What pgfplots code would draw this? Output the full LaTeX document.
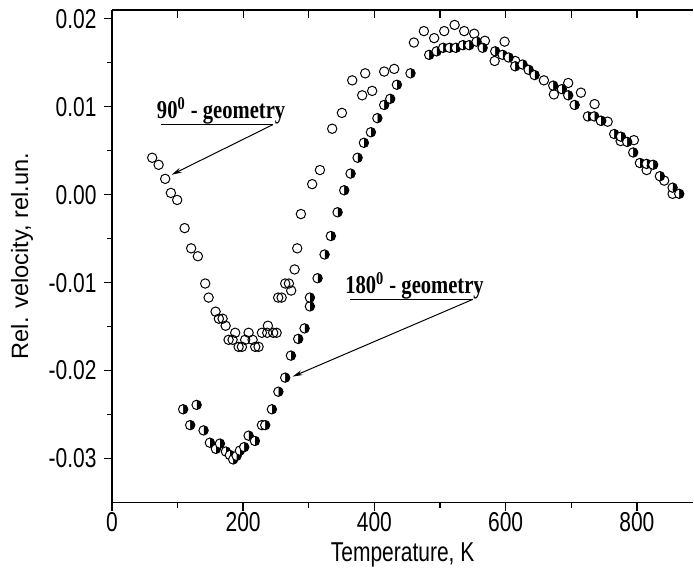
\documentclass[border=0pt]{standalone}
\usepackage{graphicx}
\usepackage{pgfplots}
\pgfplotsset{compat=1.18}
\usepackage{fontspec}
\setmainfont{Liberation Sans}
\newfontfamily\annfont{Liberation Serif}
\usetikzlibrary{plotmarks,arrows.meta}
\newcommand{\tall}[1]{\scalebox{1}[1.3]{#1}}

\begin{document}
\begin{tikzpicture}
\fontsize{10.5}{12}\selectfont
% top axis line, ticks pointing in
\begin{axis}[
    overlay,
    scale only axis, width=291pt, height=246.5pt,
    xmin=0, xmax=886, ymin=-0.035, ymax=0.021,
    axis x line*=top, axis y line=none,
    xtick={100,200,...,800}, xticklabels={},
    tick align=inside, major tick length=4pt,
    axis line style={line width=0.65pt},
    every tick/.style={line width=0.65pt, black},
]
\end{axis}
\begin{axis}[
    scale only axis, width=291pt, height=246.5pt,
    xmin=0, xmax=886, ymin=-0.035, ymax=0.021,
    axis x line*=bottom, axis y line*=left,
    xtick={0,200,...,800}, minor xtick={100,300,500,700},
    ytick={-0.03,-0.02,-0.01,0,0.01,0.02},
    minor ytick={-0.025,-0.015,-0.005,0.005,0.015},
    scaled y ticks=false,
    tick align=outside, major tick length=4pt, minor tick length=2.5pt,
    axis line style={line width=0.65pt},
    every tick/.style={line width=0.65pt, black},
    yticklabel={\tall{\pgfmathprintnumber[fixed,fixed zerofill,precision=2,assume math mode=true]{\tick}}},
    xticklabel={\tall{\pgfmathprintnumber[assume math mode=true]{\tick}}},
    tick label style={font=\fontsize{10.5}{12}\selectfont},
    xticklabel style={yshift=2.5pt},
    xlabel={\tall{Temperature, K}},
    ylabel={Rel. velocity, rel.un.},
    every axis x label/.style={at={(axis description cs:0.5,-0.106)}, anchor=center, font=\fontsize{10.5}{12}\selectfont},
    every axis y label/.style={at={(axis description cs:-0.1546,0.5)}, rotate=90, anchor=center, font=\fontsize{11.8}{13}\selectfont},
]
% 90 deg geometry
\addplot[only marks, mark=o, mark size=2.35pt, line width=0.5pt, black] coordinates {
(61.4,0.0042) (71.2,0.0034) (81.2,0.0018) (89.9,0.0002) (99.5,-0.0006)
(110.8,-0.0038) (120.8,-0.0061) (131.0,-0.0070) (142.2,-0.0101) (147.4,-0.0117)
(158.0,-0.0133) (163.0,-0.0141) (168.7,-0.0141) (173.3,-0.0149) (177.8,-0.0165)
(183.9,-0.0165) (187.9,-0.0157) (193.1,-0.0173) (198.1,-0.0173) (203.1,-0.0165)
(208.3,-0.0157) (214.4,-0.0165) (218.4,-0.0173) (223.5,-0.0173) (228.6,-0.0157)
(236.7,-0.0157) (237.7,-0.0149) (245.8,-0.0157) (251.0,-0.0157) (253.4,-0.0117)
(258.6,-0.0117) (264.1,-0.0101) (269.7,-0.0101) (273.2,-0.0109) (278.4,-0.0085)
(282.4,-0.0061) (288.0,-0.0022) (305.2,0.0012) (317.0,0.0028) (335.7,0.0075)
(350.5,0.0093) (366.2,0.0130) (381.4,0.0113) (386.0,0.0138) (396.6,0.0118)
(414.9,0.0140) (430.2,0.0143) (460.2,0.0173) (475.4,0.0186) (491.1,0.0178)
(506.4,0.0186) (522.2,0.0193) (536.8,0.0186) (552.1,0.0183) (568.4,0.0175)
(583.2,0.0152) (598.4,0.0174) (614.6,0.0152) (658.3,0.0130) (673.5,0.0114)
(695.3,0.0127) (714.7,0.0116) (735.5,0.0103) (745.6,0.0084) (755.4,0.0083)
(775.2,0.0061) (795.4,0.0062) (814.8,0.0028) (841.6,0.0016) (854.4,0.0001)
};
% 180 deg geometry
\addplot[only marks, mark=halfcircle*, mark size=2.35pt, line width=0.5pt, black, fill=black,
    mark options={rotate=-90}] coordinates {
(108.6,-0.0244) (119.3,-0.0262) (129.1,-0.0239) (139.7,-0.0268) (149.3,-0.0282)
(158.5,-0.0289) (164.6,-0.0283) (173.7,-0.0292) (179.8,-0.0296) (184.8,-0.0301)
(190.0,-0.0297) (195.0,-0.0291) (201.6,-0.0287) (208.3,-0.0274) (217.9,-0.0280)
(228.6,-0.0262) (233.6,-0.0262) (243.8,-0.0244) (253.7,-0.0224) (264.1,-0.0208)
(272.8,-0.0183) (283.9,-0.0164) (293.6,-0.0152) (301.7,-0.0127) (301.7,-0.0117)
(313.4,-0.0095) (324.1,-0.0068) (333.7,-0.0047) (343.9,-0.0020) (354.0,0.0005)
(363.7,0.0024) (374.4,0.0042) (384.0,0.0059) (394.7,0.0071) (404.5,0.0087)
(414.9,0.0102) (424.1,0.0109) (434.3,0.0125) (455.0,0.0138) (483.5,0.0159)
(494.8,0.0163) (504.8,0.0167) (514.6,0.0167) (524.2,0.0167) (534.9,0.0170)
(544.5,0.0170) (555.7,0.0174) (564.9,0.0167) (584.1,0.0163) (595.4,0.0159)
(604.5,0.0156) (614.6,0.0146) (625.8,0.0148) (635.0,0.0142) (644.1,0.0136)
(672.5,0.0124) (685.7,0.0120) (695.3,0.0113) (705.1,0.0102) (725.3,0.0089)
(735.0,0.0089) (745.1,0.0084) (765.4,0.0069) (775.6,0.0066) (785.2,0.0060)
(794.4,0.0048) (804.6,0.0036) (814.8,0.0035) (824.8,0.0034) (835.0,0.0021)
(854.4,0.0008) (864.5,0.0001)
};
% annotations
\node[anchor=base west, inner sep=0pt, font=\annfont\bfseries\fontsize{10.3}{12}\selectfont]
    at (axis cs:68.1,0.00864) {\scalebox{1}[1.25]{90\textsuperscript{0} - geometry}};
\draw[line width=0.5pt] (axis cs:74.7,0.00795) -- (axis cs:244.9,0.00795);
\draw[line width=0.5pt, -{Stealth[length=5pt,width=2.5pt]}] (axis cs:244.9,0.00795) -- (axis cs:91.0,0.00227);
\node[anchor=base west, inner sep=0pt, font=\annfont\bfseries\fontsize{10.3}{12}\selectfont]
    at (axis cs:355.0,-0.01128) {\scalebox{1}[1.25]{180\textsuperscript{0} - geometry}};
\draw[line width=0.5pt] (axis cs:362.7,-0.0119) -- (axis cs:550.1,-0.0119);
\draw[line width=0.5pt, -{Stealth[length=5pt,width=2.5pt]}] (axis cs:550.1,-0.0119) -- (axis cs:275.4,-0.02068);
\end{axis}
\path ([xshift=-56pt,yshift=-36.5pt]current axis.south west) rectangle ([yshift=5pt]current axis.north east);
\end{tikzpicture}
\end{document}
